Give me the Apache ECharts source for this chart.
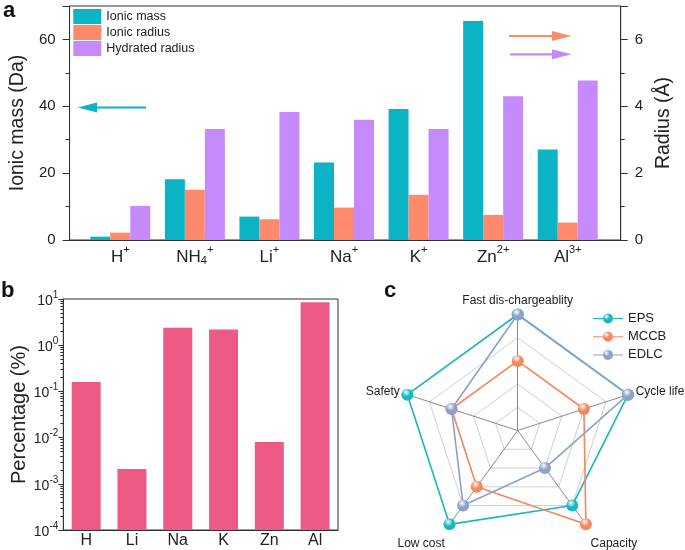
<!DOCTYPE html>
<html><head><meta charset="utf-8">
<script src="https://cdn.jsdelivr.net/npm/echarts@6/dist/echarts.min.js"></script>
<style>html,body{margin:0;padding:0;background:#fff}#c{width:685px;height:550px}</style>
</head><body><div id="c"></div>
<script>
// ---------- Panel a data ----------
const ionBase = ['H', 'NH', 'Li', 'Na', 'K', 'Zn', 'Al'];
const ionSub = ['', '4', '', '', '', '', ''];
const ionCharge = ['+', '+', '+', '+', '+', '2+', '3+'];
const ionicMass = [1.0, 18.2, 7.0, 23.2, 39.2, 65.5, 27.1];       // Da (left axis)
const ionicRadius = [0.22, 1.50, 0.62, 0.97, 1.35, 0.75, 0.52];    // Å (right axis)
const hydratedRadius = [1.02, 3.32, 3.83, 3.60, 3.32, 4.30, 4.77]; // Å (right axis)
const seriesNamesA = ['Ionic mass', 'Ionic radius', 'Hydrated radius'];
const massRange = [0, 70], massStep = 20, massMinorStep = 10;
const radiusRange = [0, 7], radiusStep = 2, radiusMinorStep = 1;

// ---------- Panel b data ----------
const elements = ['H', 'Li', 'Na', 'K', 'Zn', 'Al'];
const percentage = [0.16, 0.0021, 2.4, 2.2, 0.008, 8.5];
const percentRange = [1e-4, 10];
const decadeExponents = [-4, -3, -2, -1, 0];
const minorMultipliers = [2, 3, 4, 5, 6, 7, 8, 9];

// ---------- Panel c data ----------
const criteria = ['Fast dis-chargeablity', 'Safety', 'Low cost', 'Capacity', 'Cycle life'];
const criteriaMax = 5;
const devices = ['EPS', 'MCCB', 'EDLC'];
const epsScores  = [5, 5, 5, 4, 5];
const mccbScores = [3, 3, 3, 5, 3];
const edlcScores = [5, 3, 4, 2, 5];

// ---------- styling ----------
const FONT = "'Liberation Sans', Arial, Helvetica, sans-serif";
const TXT = '#222';
const AX = '#333';
const teal = '#0ab4c4', salmon = '#fe8a6c', violet = '#c68afd', pink = '#ec5a85';
const devColors = ['#17b6c0', '#f7865f', '#8ca1c9'];

const ionNames = ionBase.map((b, i) => b + ionSub[i] + ionCharge[i]);
const scores = [epsScores, mccbScores, edlcScores];
const lowerNames = ['Low cost', 'Capacity'];
const logMinorTicks = [];
decadeExponents.forEach(e => minorMultipliers.forEach(m => logMinorTicks.push(+(m * Math.pow(10, e)).toPrecision(3))));

function ball(color, cx, cy, r) {
  return new echarts.graphic.RadialGradient(cx, cy, r, [
    { offset: 0, color: '#ffffff' },
    { offset: 0.55, color: color },
    { offset: 1, color: color }
  ]);
}

const chart = echarts.init(document.getElementById('c'), null, { renderer: 'canvas' });

const option = {
  animation: false,
  backgroundColor: '#fff',
  textStyle: { fontFamily: FONT, color: TXT },
  grid: [
    { left: 67.7, top: 6, width: 553, height: 234, show: true, borderColor: AX, borderWidth: 1, backgroundColor: 'transparent' },
    { left: 83, top: 6, width: 522, height: 234 },
    { left: 63.3, top: 299, width: 274.7, height: 231, show: true, borderColor: AX, borderWidth: 1, backgroundColor: 'transparent' }
  ],
  xAxis: [
    { gridIndex: 0, type: 'value', min: 0, max: 1, axisLine: { show: true, lineStyle: { color: AX } },
      axisTick: { show: false }, axisLabel: { show: false }, splitLine: { show: false } },
    { gridIndex: 1, type: 'category', data: ionNames, boundaryGap: true,
      axisLine: { show: false }, axisTick: { show: false }, splitLine: { show: false },
      axisLabel: {
        margin: 4, interval: 0,
        formatter: (v, i) => '{b|' + ionBase[i] + '}' + (ionSub[i] ? '{sub|' + ionSub[i] + '}' : '') + '{sup|' + ionCharge[i] + '}',
        rich: {
          b: { fontSize: 17, lineHeight: 22, fontFamily: FONT, color: TXT, verticalAlign: 'bottom' },
          sub: { fontSize: 11, lineHeight: 11, fontFamily: FONT, color: TXT, verticalAlign: 'bottom' },
          sup: { fontSize: 11, lineHeight: 11, fontFamily: FONT, color: TXT, verticalAlign: 'top' }
        }
      } },
    { gridIndex: 2, type: 'category', data: elements, boundaryGap: true,
      axisLine: { show: true, lineStyle: { color: AX } }, axisTick: { show: false }, splitLine: { show: false },
      axisLabel: { margin: 3, fontSize: 16, color: TXT, fontFamily: FONT, interval: 0 } }
  ],
  yAxis: [
    { gridIndex: 0, type: 'value', position: 'left', min: massRange[0], max: massRange[1], interval: massStep,
      axisLine: { show: true, lineStyle: { color: AX } },
      axisTick: { show: true, inside: false, length: 7, lineStyle: { color: AX } },
      axisLabel: { margin: 14, fontSize: 15, color: TXT, fontFamily: FONT, formatter: v => (v % massStep === 0 ? String(v) : '') },
      splitLine: { show: false },
      name: 'Ionic mass (Da)', nameLocation: 'middle', nameGap: 31, nameRotate: 90,
      nameTextStyle: { fontSize: 19.5, color: TXT, fontFamily: FONT } },
    { gridIndex: 0, type: 'value', position: 'left', offset: 0, min: massRange[0], max: massRange[1], interval: massMinorStep,
      axisLine: { show: false }, axisTick: { show: true, length: 4, lineStyle: { color: AX } },
      axisLabel: { show: false }, splitLine: { show: false } },
    { gridIndex: 0, type: 'value', position: 'right', min: radiusRange[0], max: radiusRange[1], interval: radiusStep,
      axisLine: { show: true, lineStyle: { color: AX } },
      axisTick: { show: true, inside: false, length: 7, lineStyle: { color: AX } },
      axisLabel: { margin: 14, fontSize: 15, color: TXT, fontFamily: FONT, formatter: v => (v % radiusStep === 0 ? String(v) : '') },
      splitLine: { show: false },
      name: 'Radius (Å)', nameLocation: 'middle', nameGap: 24, nameRotate: 90,
      nameTextStyle: { fontSize: 19.5, color: TXT, fontFamily: FONT } },
    { gridIndex: 0, type: 'value', position: 'right', offset: 0, min: radiusRange[0], max: radiusRange[1], interval: radiusMinorStep,
      axisLine: { show: false }, axisTick: { show: true, length: 4, lineStyle: { color: AX } },
      axisLabel: { show: false }, splitLine: { show: false } },
    { gridIndex: 1, type: 'value', min: massRange[0], max: massRange[1], show: false, splitLine: { show: false } },
    { gridIndex: 1, type: 'value', min: radiusRange[0], max: radiusRange[1], show: false, splitLine: { show: false } },
    { gridIndex: 2, type: 'log', logBase: 10, min: percentRange[0], max: percentRange[1], startValue: percentRange[0],
      axisLine: { show: true, lineStyle: { color: AX } },
      axisTick: { show: true, inside: false, length: 5, lineStyle: { color: AX } },
      splitLine: { show: false },
      axisLabel: {
        margin: 5, color: TXT,
        formatter: v => '{b|10}{sup|' + Math.round(Math.log10(v)) + '}',
        rich: {
          b: { fontSize: 14, lineHeight: 18, fontFamily: FONT, color: TXT, verticalAlign: 'bottom' },
          sup: { fontSize: 10, lineHeight: 10, fontFamily: FONT, color: TXT, verticalAlign: 'top' }
        }
      },
      name: 'Percentage (%)', nameLocation: 'middle', nameGap: 33, nameRotate: 90,
      nameTextStyle: { fontSize: 20, color: TXT, fontFamily: FONT } },
    { gridIndex: 2, type: 'log', logBase: 10, min: percentRange[0], max: percentRange[1], position: 'left', offset: 0,
      axisLine: { show: false }, splitLine: { show: false }, axisLabel: { show: false },
      axisTick: { show: true, inside: false, length: 3, customValues: logMinorTicks, lineStyle: { color: AX } } }
  ],
  radar: {
    center: [517.7, 430.5], radius: 116, startAngle: 90, splitNumber: 5, shape: 'polygon',
    indicator: criteria.map(n => ({ name: n, min: 0, max: criteriaMax })),
    axisName: {
      color: TXT, fontSize: 12, fontFamily: FONT,
      formatter: n => (lowerNames.indexOf(n) >= 0 ? '{low|' + n + '}' : n),
      rich: { low: { fontSize: 12, fontFamily: FONT, color: TXT, padding: [25, 0, 0, 0] } }
    },
    nameGap: 8,
    splitLine: { lineStyle: { color: ['#cfcfcf', '#cfcfcf', '#cfcfcf', '#cfcfcf', '#cfcfcf', 'rgba(0,0,0,0)'], width: 1 } },
    splitArea: { show: false },
    axisLine: { lineStyle: { color: '#8a8a8a', width: 1 } },
    axisTick: { show: false }, axisLabel: { show: false }
  },
  legend: [
    { data: seriesNamesA, orient: 'vertical', left: 73.3, top: 9, itemWidth: 28, itemHeight: 15, itemGap: 1,
      icon: 'rect', selectedMode: false, padding: 0,
      textStyle: { fontSize: 12.5, color: TXT, fontFamily: FONT } },
    { data: devices.map((d, i) => ({ name: d,
        icon: 'path://M0,5.5h10v1h-10z M20,5.5h10v1h-10z M20,6a5,5 0 1,1 -10,0a5,5 0 1,1 10,0z',
        itemStyle: { color: ball(devColors[i], 0.45, 0.3, 0.6) } })),
      orient: 'vertical', left: 593, top: 312, itemWidth: 30, itemHeight: 12, itemGap: 5.2,
      selectedMode: false, padding: 0,
      textStyle: { fontSize: 13, color: TXT, fontFamily: FONT, lineHeight: 12 } }
  ],
  series: [
    { name: seriesNamesA[0], type: 'bar', xAxisIndex: 1, yAxisIndex: 4, data: ionicMass, barWidth: 20, barGap: '0%', itemStyle: { color: teal } },
    { name: seriesNamesA[1], type: 'bar', xAxisIndex: 1, yAxisIndex: 5, data: ionicRadius, barWidth: 20, barGap: '0%', itemStyle: { color: salmon } },
    { name: seriesNamesA[2], type: 'bar', xAxisIndex: 1, yAxisIndex: 5, data: hydratedRadius, barWidth: 20, barGap: '0%', itemStyle: { color: violet } },
    { name: 'Percentage', type: 'bar', xAxisIndex: 2, yAxisIndex: 6, data: percentage, barWidth: 29, itemStyle: { color: pink } }
  ].concat(devices.map((d, i) => ({
    type: 'radar', name: d, symbol: 'circle', symbolSize: 12,
    data: [{ name: d, value: scores[i],
      lineStyle: { color: devColors[i], width: 1.6 },
      itemStyle: { color: ball(devColors[i], 0.4, 0.3, 0.65) } }]
  }))),
  graphic: [
    { type: 'text', left: 3, top: 0, style: { text: 'a', font: 'bold 22px ' + FONT, fill: '#111' } },
    { type: 'text', left: 1, top: 280, style: { text: 'b', font: 'bold 22px ' + FONT, fill: '#111' } },
    { type: 'text', left: 384, top: 280, style: { text: 'c', font: 'bold 22px ' + FONT, fill: '#111' } },
    // direction arrows (annotation)
    { type: 'line', shape: { x1: 96, y1: 107.5, x2: 146, y2: 107.5 }, style: { stroke: teal, lineWidth: 2.2 } },
    { type: 'polygon', shape: { points: [[77.7, 107.5], [97, 102.5], [97, 112.5]] }, style: { fill: teal } },
    { type: 'line', shape: { x1: 509, y1: 36, x2: 553, y2: 36 }, style: { stroke: salmon, lineWidth: 2.2 } },
    { type: 'polygon', shape: { points: [[571.5, 36], [552, 31], [552, 41]] }, style: { fill: salmon } },
    { type: 'line', shape: { x1: 510, y1: 54.3, x2: 553, y2: 54.3 }, style: { stroke: violet, lineWidth: 2.2 } },
    { type: 'polygon', shape: { points: [[571.7, 54.3], [552, 49.3], [552, 59.3]] }, style: { fill: violet } }
  ]
};
chart.setOption(option);
</script></body></html>
